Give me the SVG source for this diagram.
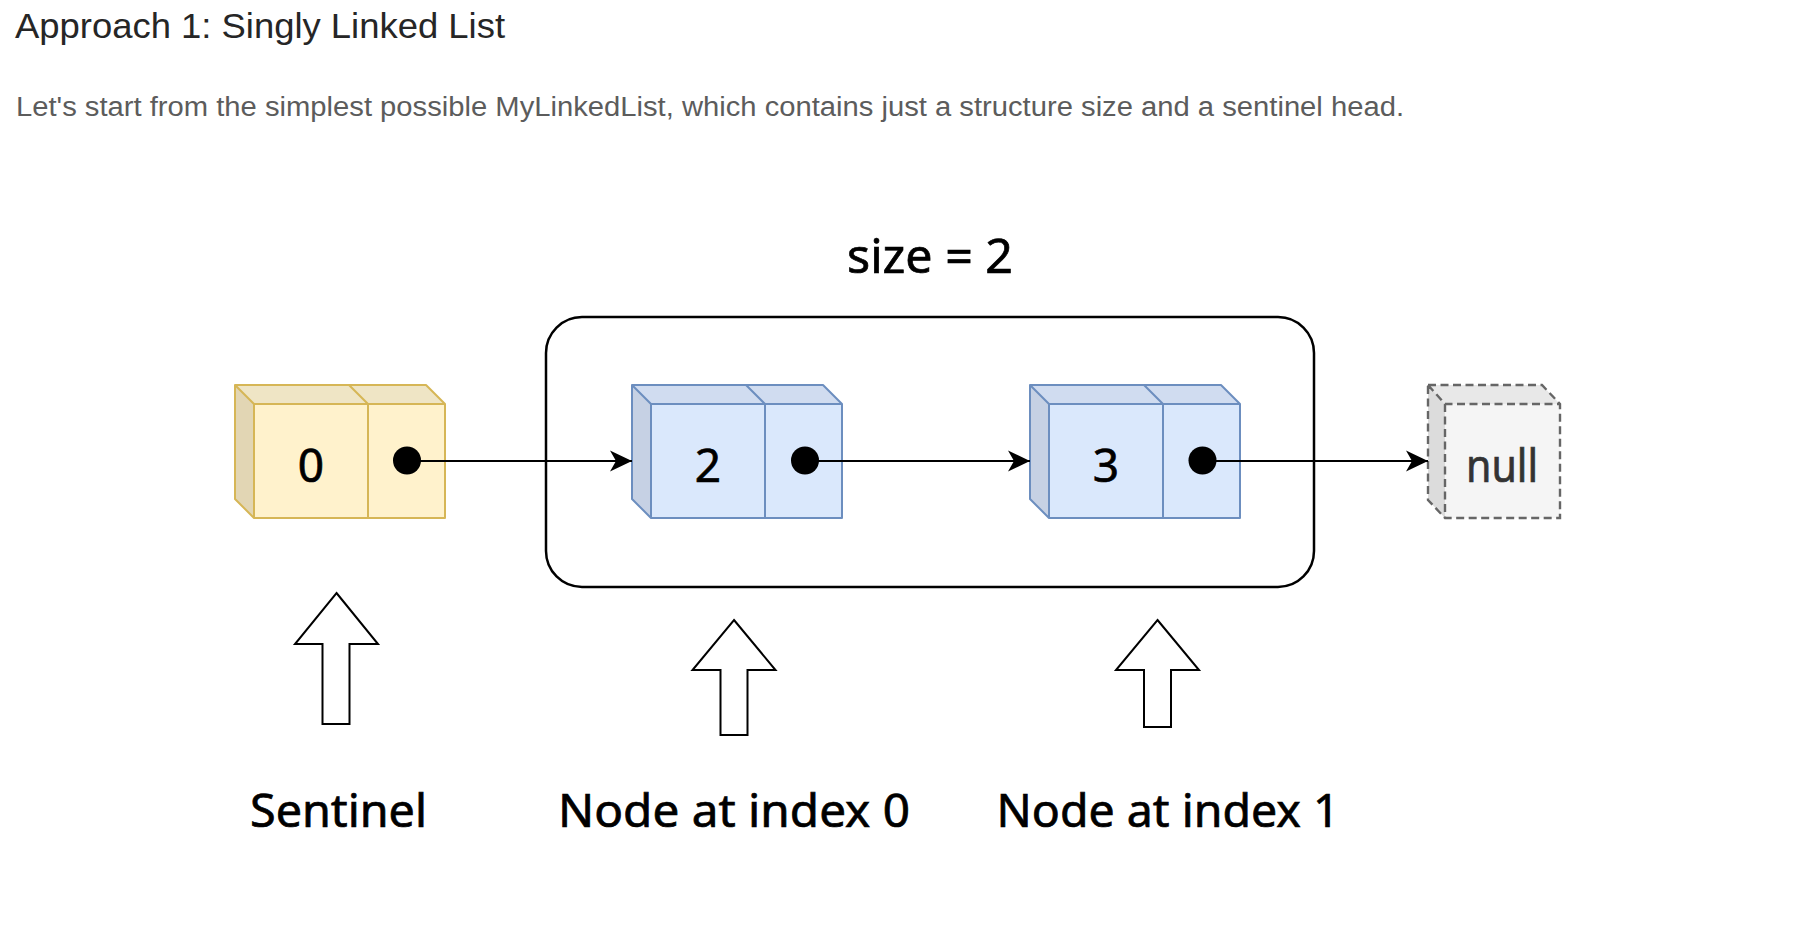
<svg xmlns="http://www.w3.org/2000/svg" width="1808" height="948" viewBox="0 0 1808 948">
  <defs>
    <style>
      .hd { font-family: "Liberation Sans", Arial, sans-serif; }
      .dg { font-family: "Comic Sans MS", "Noto Sans", "DejaVu Sans", sans-serif; fill: #000; stroke: #000; stroke-width: 0.7; text-anchor: middle; }
      .yel .front { fill: #fff2cc; } .yel .top { fill: #efe5c5; } .yel .left { fill: #e2d6b4; }
      .yel .edge { fill: none; stroke: #d6b656; stroke-width: 2; stroke-linejoin: round; }
      .blu .front { fill: #dae8fc; } .blu .top { fill: #d0dcf0; } .blu .left { fill: #c6d1e4; }
      .blu .edge { fill: none; stroke: #6c8ebf; stroke-width: 2; stroke-linejoin: round; }
      .nul .front { fill: #f5f5f5; } .nul .top { fill: #e8e8e8; } .nul .left { fill: #dcdcdc; }
      .nul .edge { fill: none; stroke: #666666; stroke-width: 2.4; stroke-dasharray: 8 4.5; }
      .dot { fill: #000; }
      .link { fill: none; stroke: #000; stroke-width: 2; marker-end: url(#ah); }
      .blk { fill: #fff; stroke: #000; stroke-width: 2; stroke-linejoin: miter; }
    </style>
    <marker id="ah" markerUnits="userSpaceOnUse" viewBox="-24 -12 26 24" refX="0" refY="0" markerWidth="26" markerHeight="24" orient="auto">
      <path d="M0,0 L-22,-10.5 L-16,0 L-22,10.5 Z" fill="#000"/>
    </marker>
  </defs>

  <rect width="1808" height="948" fill="#ffffff"/>

  <g id="header">
    <text class="hd" x="15" y="38" font-size="35" fill="#262626" textLength="490" lengthAdjust="spacingAndGlyphs">Approach 1: Singly Linked List</text>
    <text class="hd" x="16" y="116" font-size="27" fill="#5c5c5c" textLength="1388" lengthAdjust="spacingAndGlyphs">Let's start from the simplest possible MyLinkedList, which contains just a structure size and a sentinel head.</text>
  </g>

  <g id="size-container">
    <rect x="546" y="317" width="768" height="270" rx="36" ry="36" fill="none" stroke="#000" stroke-width="2.5"/>
    <text class="dg" x="930" y="273" font-size="48" textLength="166" lengthAdjust="spacingAndGlyphs">size = 2</text>
  </g>

  <g id="node-sentinel" class="yel">
    <polygon class="top" points="235,385 426,385 445,404 254,404"/>
    <polygon class="left" points="235,385 254,404 254,518 235,499"/>
    <rect class="front" x="254" y="404" width="191" height="114"/>
    <path class="edge" d="M235,385 L426,385 L445,404 L445,518 L254,518 L235,499 Z M235,385 L254,404 L445,404 M254,404 L254,518 M349,385 L368,404 L368,518"/>
    <text class="dg" x="311" y="482" font-size="46">0</text>
    <circle class="dot" cx="407" cy="460.5" r="14"/>
  </g>

  <g id="node-2" class="blu">
    <polygon class="top" points="632,385 823,385 842,404 651,404"/>
    <polygon class="left" points="632,385 651,404 651,518 632,499"/>
    <rect class="front" x="651" y="404" width="191" height="114"/>
    <path class="edge" d="M632,385 L823,385 L842,404 L842,518 L651,518 L632,499 Z M632,385 L651,404 L842,404 M651,404 L651,518 M746,385 L765,404 L765,518"/>
    <text class="dg" x="708" y="482" font-size="46">2</text>
    <circle class="dot" cx="805" cy="460.5" r="14"/>
  </g>

  <g id="node-3" class="blu">
    <polygon class="top" points="1030,385 1221,385 1240,404 1049,404"/>
    <polygon class="left" points="1030,385 1049,404 1049,518 1030,499"/>
    <rect class="front" x="1049" y="404" width="191" height="114"/>
    <path class="edge" d="M1030,385 L1221,385 L1240,404 L1240,518 L1049,518 L1030,499 Z M1030,385 L1049,404 L1240,404 M1049,404 L1049,518 M1144,385 L1163,404 L1163,518"/>
    <text class="dg" x="1106" y="482" font-size="46">3</text>
    <circle class="dot" cx="1202.5" cy="460.5" r="14"/>
  </g>

  <g id="node-null" class="nul">
    <polygon class="top" points="1428,385 1542,385 1560,404 1445,404"/>
    <polygon class="left" points="1428,385 1445,404 1445,518 1428,500"/>
    <rect class="front" x="1445" y="404" width="115" height="114"/>
    <path class="edge" d="M1428,385 L1542,385 L1560,404 L1560,518 L1445,518 L1428,500 Z M1428,385 L1445,404 L1560,404 M1445,404 L1445,518"/>
    <text class="dg" x="1502" y="482" font-size="46" style="fill:#333333;stroke:#333333" textLength="72" lengthAdjust="spacingAndGlyphs">null</text>
  </g>

  <g id="connectors">
    <line class="link" x1="407" y1="461" x2="632" y2="461"/>
    <line class="link" x1="805" y1="461" x2="1030" y2="461"/>
    <line class="link" x1="1202.5" y1="461" x2="1428" y2="461"/>
  </g>

  <g id="pointer-sentinel">
    <polygon class="blk" points="336.5,593 378,644 349.5,644 349.5,724 322.5,724 322.5,644 295,644"/>
    <text class="dg" x="338.5" y="827" font-size="46" textLength="177" lengthAdjust="spacingAndGlyphs">Sentinel</text>
  </g>

  <g id="pointer-index0">
    <polygon class="blk" points="734,620 775.5,670 747.5,670 747.5,735 720.5,735 720.5,670 692.5,670"/>
    <text class="dg" x="734" y="827" font-size="46" textLength="352" lengthAdjust="spacingAndGlyphs">Node at index 0</text>
  </g>

  <g id="pointer-index1">
    <polygon class="blk" points="1157.5,620 1199,670 1171,670 1171,727 1144,727 1144,670 1116,670"/>
    <text class="dg" x="1168" y="827" font-size="46" textLength="343" lengthAdjust="spacingAndGlyphs">Node at index 1</text>
  </g>
</svg>
